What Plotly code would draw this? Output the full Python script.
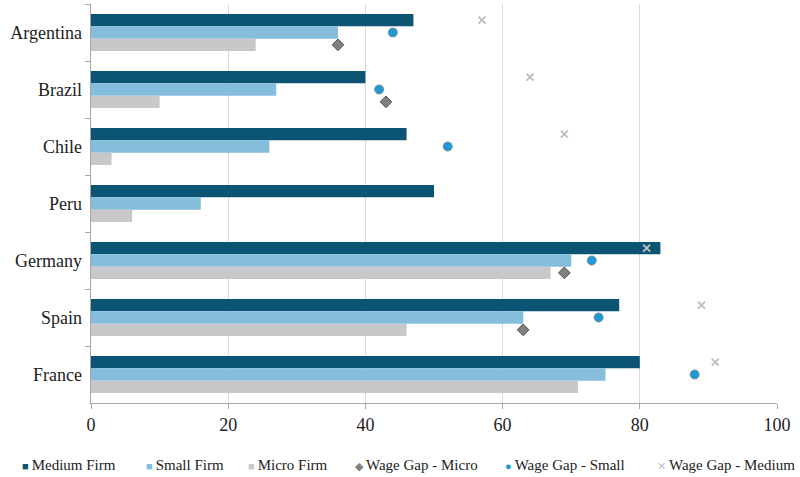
import plotly.graph_objects as go

countries = ["Argentina", "Brazil", "Chile", "Peru", "Germany", "Spain", "France"]
medium_firm = [47, 40, 46, 50, 83, 77, 80]
small_firm = [36, 27, 26, 16, 70, 63, 75]
micro_firm = [24, 10, 3, 6, 67, 46, 71]
gap_micro = [36, 43, None, None, 69, 63, None]
gap_small = [44, 42, 52, None, 73, 74, 88]
gap_medium = [57, 64, 69, None, 81, 89, 91]

FONT = "Liberation Serif, Times New Roman, serif"
BARGAP = 0.35
C_MED, C_SMALL, C_MICRO = "#0B5473", "#85BDDD", "#C8C8CA"
C_GMICRO, C_GSMALL, C_GMED = "#808080", "#1A9AD6", "#BFBFBF"

fig = go.Figure()
bar_specs = [
    ("Medium Firm", medium_firm, C_MED, "med"),
    ("Small Firm", small_firm, C_SMALL, "small"),
    ("Micro Firm", micro_firm, C_MICRO, "micro"),
]
for name, vals, col, og in bar_specs:
    fig.add_trace(go.Bar(
        y=countries, x=vals, name=name, orientation="h",
        marker=dict(color=col, line=dict(width=0)), offsetgroup=og,
    ))

scatter_specs = [
    ("Wage Gap - Medium", gap_medium, dict(symbol="x-thin", size=7, color=C_GMED,
                                           line=dict(width=2, color=C_GMED)), "med"),
    ("Wage Gap - Small", gap_small, dict(symbol="circle", size=9, color=C_GSMALL,
                                         line=dict(width=1, color="#7F8C95")), "small"),
    ("Wage Gap - Micro", gap_micro, dict(symbol="diamond", size=9, color=C_GMICRO,
                                         line=dict(width=1, color="#555555")), "micro"),
]
for name, vals, mk, og in scatter_specs:
    fig.add_trace(go.Scatter(
        y=countries, x=vals, name=name, mode="markers", orientation="h",
        marker=mk, offsetgroup=og,
    ))

# custom one-row legend (text annotations)
legend_items = [
    ("■", C_MED, "Medium Firm", 20),
    ("■", C_SMALL, "Small Firm", 144),
    ("■", C_MICRO, "Micro Firm", 246),
    ("◆", C_GMICRO, "Wage Gap - Micro", 353),
    ("●", C_GSMALL, "Wage Gap - Small", 503),
    ("✕", C_GMED, "Wage Gap - Medium", 655),
]
L, W = 91, 686
for sym, col, label, px in legend_items:
    fig.add_annotation(
        xref="paper", yref="paper", x=(px - L) / W, y=-0.155,
        xanchor="left", yanchor="middle", showarrow=False,
        text=f"<span style='color:{col};font-size:11px'>{sym}</span>\u2009{label}",
        font=dict(family=FONT, size=15, color="#222222"),
    )

fig.update_layout(
    width=800, height=477,
    margin=dict(l=91, r=23, t=4, b=74),
    paper_bgcolor="white", plot_bgcolor="white",
    barmode="group", bargap=BARGAP, bargroupgap=0,
    scattermode="group", scattergap=BARGAP,
    font=dict(family=FONT, size=16, color="#222222"),
    showlegend=False,
    xaxis=dict(range=[0, 100], dtick=20, showgrid=True, gridcolor="#D9D9D9", gridwidth=1,
               zeroline=False, showline=True, linecolor="#A6A6A6", linewidth=1,
               ticks="outside", ticklen=5, tickcolor="#A6A6A6",
               tickfont=dict(family=FONT, size=18)),
    yaxis=dict(autorange="reversed", showline=True, linecolor="#A6A6A6", linewidth=1,
               ticks="outside", ticklen=5, tickcolor="#A6A6A6", tickson="boundaries",
               showgrid=False, tickfont=dict(family=FONT, size=18), ticksuffix=" "),
)

fig.write_html("out.html")
